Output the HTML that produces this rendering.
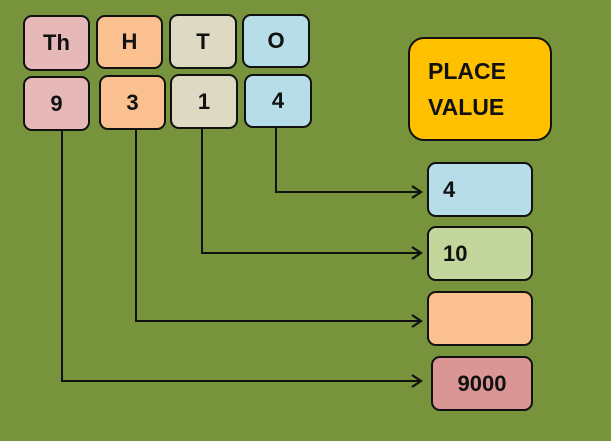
<!DOCTYPE html>
<html><head><style>
body{margin:0;width:611px;height:441px;background:#77933c;position:relative;overflow:hidden;font-family:"Liberation Sans",sans-serif;font-weight:bold;}
.b{position:absolute;box-sizing:border-box;border:2.5px solid #111;border-radius:9px;display:flex;align-items:center;justify-content:center;font-size:22px;color:#111;}
.l{justify-content:flex-start;padding-left:14px;}
</style></head><body>
<div class="b" style="left:23px;top:15px;width:67px;height:56px;background:#e6b9b8">Th</div>
<div class="b" style="left:96px;top:15px;width:67px;height:54px;background:#fac090">H</div>
<div class="b" style="left:169px;top:14px;width:68px;height:55px;background:#ddd9c3">T</div>
<div class="b" style="left:242px;top:14px;width:68px;height:54px;background:#b7dde8">O</div>
<div class="b" style="left:23px;top:76px;width:67px;height:55px;background:#e6b9b8">9</div>
<div class="b" style="left:99px;top:75px;width:67px;height:55px;background:#fac090">3</div>
<div class="b" style="left:170px;top:74px;width:68px;height:55px;background:#ddd9c3">1</div>
<div class="b" style="left:244px;top:74px;width:68px;height:54px;background:#b7dde8">4</div>
<div class="b" style="left:408px;top:37px;width:144px;height:104px;background:#ffc000;border-radius:16px;justify-content:flex-start;padding-left:18px;font-size:23px;line-height:36px">PLACE<br>VALUE</div>
<div class="b l" style="left:427px;top:162px;width:106px;height:55px;background:#b7dde8">4</div>
<div class="b l" style="left:427px;top:226px;width:106px;height:55px;background:#c3d69b">10</div>
<div class="b l" style="left:427px;top:291px;width:106px;height:55px;background:#fac090"></div>
<div class="b" style="left:431px;top:356px;width:102px;height:55px;background:#d99694">9000</div>
<svg width="611" height="441" style="position:absolute;left:0;top:0" fill="none" stroke="#111" stroke-width="2">
<polyline points="276,128 276,192 421,192"/>
<polyline points="202,129 202,253 421,253"/>
<polyline points="136,130 136,321 421,321"/>
<polyline points="62,131 62,381 421,381"/>
<g stroke-width="2.2">
<polyline points="412,186 421,192 412,198"/>
<polyline points="412,247 421,253 412,259"/>
<polyline points="412,315 421,321 412,327"/>
<polyline points="412,375 421,381 412,387"/>
</g>
</svg>
</body></html>
